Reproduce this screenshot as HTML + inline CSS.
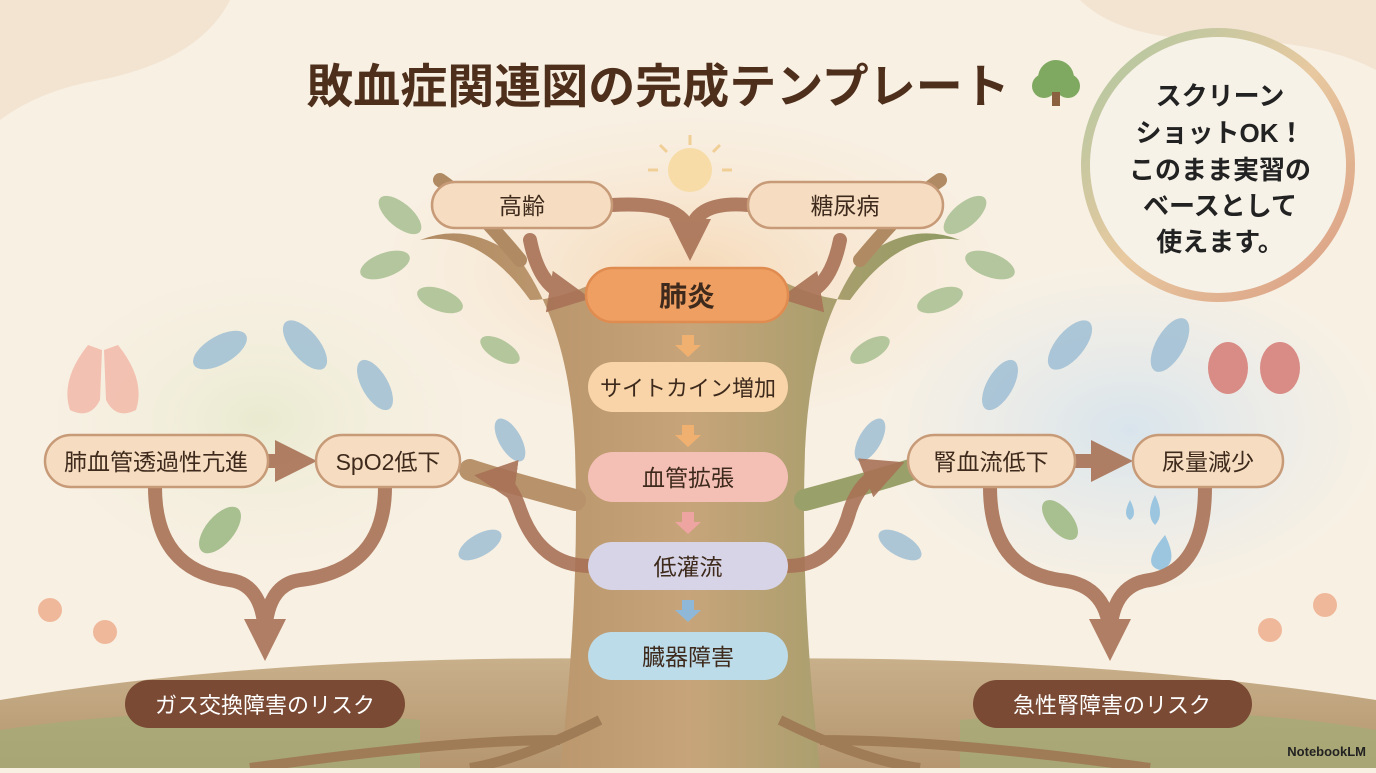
<!DOCTYPE html>
<html><head><meta charset="utf-8"><style>
html,body{margin:0;padding:0;}
body{width:1376px;height:768px;overflow:hidden;background:#f8f0e3;font-family:"Liberation Sans","Noto Sans CJK JP",sans-serif;}
svg text{font-family:"Liberation Sans","Noto Sans CJK JP",sans-serif;}
</style></head><body>
<svg width="1376" height="768" viewBox="0 0 1376 768" xmlns="http://www.w3.org/2000/svg">
<defs>
<radialGradient id="bgL" cx="0.5" cy="0.5" r="0.5"><stop offset="0" stop-color="#e9ead0"/><stop offset="1" stop-color="#f4efdf" stop-opacity="0"/></radialGradient>
<radialGradient id="bgR" cx="0.5" cy="0.5" r="0.5"><stop offset="0" stop-color="#d8e4ec"/><stop offset="1" stop-color="#e3eaee" stop-opacity="0"/></radialGradient>
<radialGradient id="bgT" cx="0.5" cy="0.5" r="0.5"><stop offset="0" stop-color="#f6d9b8"/><stop offset="1" stop-color="#f8e6d0" stop-opacity="0"/></radialGradient>
<linearGradient id="trunk" x1="0" x2="1"><stop offset="0" stop-color="#b08a62"/><stop offset="0.5" stop-color="#c7a47a"/><stop offset="1" stop-color="#8e9a62"/></linearGradient>
<linearGradient id="ring" x1="0" y1="0" x2="1" y2="1"><stop offset="0" stop-color="#a9c7a0"/><stop offset="0.5" stop-color="#e8c9a0"/><stop offset="1" stop-color="#d99a80"/></linearGradient>
<linearGradient id="ground" x1="0" y1="0" x2="0" y2="1"><stop offset="0" stop-color="#c8b08a"/><stop offset="1" stop-color="#b59670"/></linearGradient>
<marker id="ah" viewBox="0 0 10 10" refX="5" refY="5" markerWidth="3" markerHeight="3" orient="auto"><path d="M0,0 L10,5 L0,10 Z" fill="#a87256"/></marker>
</defs>
<rect width="1376" height="768" fill="#f8f0e3"/>
<path d="M0,0 L230,0 Q200,60 100,80 Q40,90 0,120Z" fill="#f3e4d2"/>
<path d="M1376,0 L1080,0 Q1120,40 1220,40 Q1320,40 1376,70Z" fill="#f3e4d2"/>
<ellipse cx="260" cy="420" rx="230" ry="160" fill="url(#bgL)"/>
<ellipse cx="1130" cy="430" rx="260" ry="170" fill="url(#bgR)"/>
<ellipse cx="690" cy="270" rx="320" ry="160" fill="url(#bgT)"/>
<path d="M0,700 Q300,650 690,660 Q1050,650 1376,700 L1376,768 L0,768Z" fill="url(#ground)"/>
<path d="M0,730 Q200,700 420,720 L420,768 L0,768Z" fill="#a3ad76" opacity="0.7"/>
<path d="M960,720 Q1200,700 1376,730 L1376,768 L960,768Z" fill="#a3ad76" opacity="0.7"/>
<path d="M560,768 Q580,600 575,450 Q570,330 520,260 Q470,220 420,240 Q480,230 530,300 Q560,300 600,280 L780,280 Q820,300 850,300 Q900,230 960,240 Q910,220 860,260 Q810,330 805,450 Q800,600 820,768Z" fill="url(#trunk)"/>
<path d="M520,260 Q470,200 440,180 M860,260 Q910,200 940,180" stroke="#b08a62" stroke-width="14" fill="none" stroke-linecap="round"/>
<path d="M575,500 Q500,480 470,470" stroke="#b8926a" stroke-width="22" fill="none" stroke-linecap="round"/>
<path d="M805,500 Q880,480 910,470" stroke="#9aa06a" stroke-width="22" fill="none" stroke-linecap="round"/>
<path d="M560,740 Q450,740 250,768 M820,740 Q950,740 1150,768 M600,720 Q520,760 470,768 M780,720 Q860,760 920,768" stroke="#a07c56" stroke-width="10" fill="none"/>
<g fill="#a8bf90" opacity="0.85">
<ellipse cx="400" cy="215" rx="26" ry="12" transform="rotate(40 400 215)"/>
<ellipse cx="385" cy="265" rx="26" ry="12" transform="rotate(-20 385 265)"/>
<ellipse cx="440" cy="300" rx="24" ry="11" transform="rotate(20 440 300)"/>
<ellipse cx="965" cy="215" rx="26" ry="12" transform="rotate(-40 965 215)"/>
<ellipse cx="990" cy="265" rx="26" ry="12" transform="rotate(20 990 265)"/>
<ellipse cx="940" cy="300" rx="24" ry="11" transform="rotate(-20 940 300)"/>
<ellipse cx="500" cy="350" rx="22" ry="10" transform="rotate(30 500 350)"/>
<ellipse cx="870" cy="350" rx="22" ry="10" transform="rotate(-30 870 350)"/>
</g>
<g fill="#9fbfd4" opacity="0.85">
<ellipse cx="305" cy="345" rx="30" ry="14" transform="rotate(50 305 345)"/>
<ellipse cx="220" cy="350" rx="30" ry="14" transform="rotate(-30 220 350)"/>
<ellipse cx="375" cy="385" rx="28" ry="13" transform="rotate(60 375 385)"/>
<ellipse cx="1070" cy="345" rx="30" ry="14" transform="rotate(-50 1070 345)"/>
<ellipse cx="1170" cy="345" rx="30" ry="14" transform="rotate(-60 1170 345)"/>
<ellipse cx="1000" cy="385" rx="28" ry="13" transform="rotate(-60 1000 385)"/>
<ellipse cx="510" cy="440" rx="24" ry="11" transform="rotate(60 510 440)"/>
<ellipse cx="870" cy="440" rx="24" ry="11" transform="rotate(-60 870 440)"/>
<ellipse cx="480" cy="545" rx="24" ry="11" transform="rotate(-30 480 545)"/>
<ellipse cx="900" cy="545" rx="24" ry="11" transform="rotate(30 900 545)"/>
</g>
<g fill="#a8bf90"><ellipse cx="220" cy="530" rx="28" ry="14" transform="rotate(-50 220 530)"/><ellipse cx="1060" cy="520" rx="24" ry="12" transform="rotate(50 1060 520)"/></g>
<g fill="#f2b9a8" opacity="0.85"><path d="M88,345 Q60,380 70,410 Q90,420 100,400 L102,350Z"/><path d="M118,345 Q146,380 136,410 Q116,420 106,400 L104,350Z"/></g>
<g fill="#d98c86"><ellipse cx="1228" cy="368" rx="20" ry="26"/><ellipse cx="1280" cy="368" rx="20" ry="26"/></g>
<path d="M1155,495 Q1145,515 1155,525 Q1165,515 1155,495Z M1130,500 Q1122,515 1130,520 Q1138,515 1130,500Z M1165,535 Q1140,565 1160,570 Q1180,565 1165,535Z" fill="#9cc6e0"/>
<circle cx="690" cy="170" r="22" fill="#f7dca8"/>
<g stroke="#f0cf96" stroke-width="3"><line x1="690" y1="135" x2="690" y2="145"/><line x1="660" y1="145" x2="667" y2="152"/><line x1="720" y1="145" x2="713" y2="152"/><line x1="648" y1="170" x2="658" y2="170"/><line x1="722" y1="170" x2="732" y2="170"/></g>
<g fill="#f0b89a"><circle cx="50" cy="610" r="12"/><circle cx="105" cy="632" r="12"/><circle cx="1325" cy="605" r="12"/><circle cx="1270" cy="630" r="12"/></g>
<g stroke="#a87256" stroke-width="14" fill="none" stroke-linecap="round" opacity="0.9">
<path d="M612,205 Q690,200 690,240" marker-end="url(#ah)"/>
<path d="M748,205 Q690,200 690,240"/>
<path d="M530,240 Q540,290 570,295" marker-end="url(#ah)"/>
<path d="M840,240 Q830,290 800,295" marker-end="url(#ah)"/>
<path d="M268,461 L296,461" marker-end="url(#ah)"/>
<path d="M1075,461 L1112,461" marker-end="url(#ah)"/>
<path d="M155,487 Q155,570 230,580 Q265,585 265,640" marker-end="url(#ah)"/>
<path d="M385,487 Q385,570 300,580 Q265,585 265,640"/>
<path d="M990,487 Q990,570 1060,580 Q1110,585 1110,640" marker-end="url(#ah)"/>
<path d="M1205,487 Q1205,570 1150,580 Q1110,585 1110,640"/>
<path d="M590,566 Q540,566 520,510 Q510,480 495,478" marker-end="url(#ah)"/>
<path d="M788,566 Q835,566 850,510 Q860,480 885,470" marker-end="url(#ah)"/>
</g>
<g fill="#f0b070"><path d="M682,335 h12 v10 h7 l-13,12 l-13,-12 h7z"/><path d="M682,425 h12 v10 h7 l-13,12 l-13,-12 h7z"/><path d="M682,512 h12 v10 h7 l-13,12 l-13,-12 h7z" fill="#eea4a0"/><path d="M682,600 h12 v10 h7 l-13,12 l-13,-12 h7z" fill="#8fb8d8"/></g>
<g stroke="#c79a78" stroke-width="2.5" font-size="24" fill="#4a3020">
<rect x="432" y="182" width="180" height="46" rx="23" fill="#f6dcc0"/>
<rect x="748" y="182" width="195" height="46" rx="23" fill="#f6dcc0"/>
<rect x="586" y="268" width="202" height="54" rx="27" fill="#ef9f62" stroke="#e08c50"/>
<rect x="588" y="362" width="200" height="50" rx="25" fill="#f8d4a8" stroke="none"/>
<rect x="588" y="452" width="200" height="50" rx="25" fill="#f4c0b6" stroke="none"/>
<rect x="588" y="542" width="200" height="48" rx="24" fill="#d6d4e6" stroke="none"/>
<rect x="588" y="632" width="200" height="48" rx="24" fill="#bcdcea" stroke="none"/>
<rect x="45" y="435" width="223" height="52" rx="26" fill="#f6dcc0"/>
<rect x="316" y="435" width="144" height="52" rx="26" fill="#f6dcc0"/>
<rect x="908" y="435" width="167" height="52" rx="26" fill="#f6dcc0"/>
<rect x="1133" y="435" width="150" height="52" rx="26" fill="#f6dcc0"/>
<rect x="125" y="680" width="280" height="48" rx="24" fill="#7a4a34" stroke="none"/>
<rect x="973" y="680" width="279" height="48" rx="24" fill="#7a4a34" stroke="none"/>
</g>
<g font-size="23" fill="#3e2a1c" text-anchor="middle">
<text x="522" y="214">高齢</text>
<text x="845" y="214">糖尿病</text>
<text x="687" y="306" font-size="28" font-weight="bold">肺炎</text>
<text x="688" y="396" font-size="22">サイトカイン増加</text>
<text x="688" y="486">血管拡張</text>
<text x="688" y="575">低灌流</text>
<text x="688" y="665">臓器障害</text>
<text x="156" y="470">肺血管透過性亢進</text>
<text x="388" y="470">SpO2低下</text>
<text x="991" y="470">腎血流低下</text>
<text x="1208" y="470">尿量減少</text>
<text x="265" y="713" fill="#fff" font-size="22">ガス交換障害のリスク</text>
<text x="1112" y="713" fill="#fff" font-size="22">急性腎障害のリスク</text>
</g>
<text x="658" y="103" text-anchor="middle" font-size="47" font-weight="bold" fill="#4e2f1c">敗血症関連図の完成テンプレート</text>
<g><circle cx="1056" cy="78" r="18" fill="#7fa860"/><circle cx="1044" cy="86" r="12" fill="#7fa860"/><circle cx="1068" cy="86" r="12" fill="#7fa860"/><rect x="1052" y="92" width="8" height="14" fill="#8a6040"/></g>
<circle cx="1218" cy="165" r="137" fill="url(#ring)"/>
<circle cx="1218" cy="165" r="128" fill="#f7f2e8"/>
<g font-size="26" fill="#222" text-anchor="middle" font-weight="bold">
<text x="1220" y="105">スクリーン</text>
<text x="1220" y="142">ショットOK！</text>
<text x="1220" y="179">このまま実習の</text>
<text x="1220" y="215">ベースとして</text>
<text x="1220" y="251">使えます。</text>
</g>
<text x="1366" y="756" text-anchor="end" font-size="13" font-weight="bold" fill="#222">NotebookLM</text>
</svg>
</body></html>
